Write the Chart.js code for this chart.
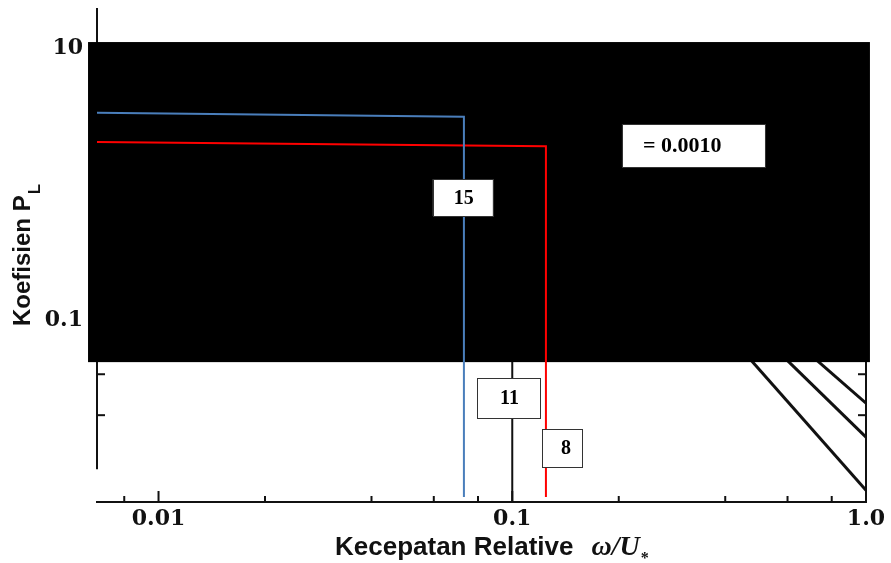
<!DOCTYPE html>
<html>
<head>
<meta charset="utf-8">
<script src="https://cdn.jsdelivr.net/npm/chart.js@4.4.1/dist/chart.umd.min.js"></script>
<style>
  html, body { margin: 0; padding: 0; background: #fff; }
  canvas { display: block; }
</style>
</head>
<body>
<canvas id="canvas" width="891" height="563"></canvas>
<script>
// curve 15 (blue) and curve 8 (red): flat part then a drop at the cut-off
const blueX = [0.0067, 0.073, 0.073]
const blueY = [3.35, 3.12, 0.005]
const redX = [0.0067, 0.1245, 0.1245]
const redY = [2.04, 1.90, 0.005]
// curve 11 (black), only its lower part shows
const blackX = [0.1, 0.1]
const blackY = [0.08, 0.0046]
// the three slanted lines at the lower right
const slopeAX = [0.40, 1.0]
const slopeAY = [0.083, 0.0056]
const slopeBX = [0.525, 1.0]
const slopeBY = [0.0706, 0.0138]
const slopeCX = [0.646, 1.0]
const slopeCY = [0.066, 0.0245]

const xTicks = [0.008, 0.01, 0.02, 0.04, 0.06, 0.08, 0.1, 0.2, 0.4, 0.6, 0.8, 1.0]
const xLabels = ['', '0.01', '', '', '', '', '0.1', '', '', '', '', '1.0']
const yTicks = [0.02, 0.04, 0.1, 10]
const yLabels = ['', '', '0.1', '10']

// text boxes on the chart
const noteText = ['15', '11', '8', '= 0.0010']
const noteX = [0.0725, 0.0976, 0.1382, 0.3253]
const noteY = [0.796, 0.0267, 0.01146, 1.919]

const xMin = 0.0067, xMax = 1.0
const yMin = 0.0046, yMax = 19.7

const pts = (xs, ys) => xs.map((v, i) => ({x: v, y: ys[i]}))

// black cover over the top part of the scan
const maskX = [0.00632, 1.026]
const maskY = [11.07, 0.0491]
const noteSize = [[60, 37], [63, 40], [40, 38], [143, 43]]
const noteFont = [20, 20, 20, 22]

function seg(ctx, x1, y1, x2, y2) {
  ctx.beginPath()
  ctx.moveTo(x1, y1)
  ctx.lineTo(x2, y2)
  ctx.stroke()
}

const decor = {
  id: 'decor',
  beforeDatasetsDraw(chart) {
    const {ctx, scales: {x, y}} = chart
    ctx.save()
    ctx.strokeStyle = '#111'
    ctx.lineWidth = 2
    // left axis stops short of the bottom axis, as in the scan
    seg(ctx, x.left, y.top, x.left, y.getPixelForValue(0.008))
    seg(ctx, x.right, y.getPixelForValue(0.0491), x.right, y.bottom)
    xTicks.forEach((v, i) => {
      if (v >= 1) return
      const px = x.getPixelForValue(v)
      seg(ctx, px, y.bottom, px, y.bottom - (xLabels[i] ? 11 : 6))
    })
    yTicks.forEach((v, i) => {
      if (yLabels[i]) return
      const py = y.getPixelForValue(v)
      seg(ctx, x.left, py, x.left + 8, py)
      seg(ctx, x.right, py, x.right - 8, py)
    })
    ctx.restore()
  },
  beforeDatasetDraw(chart, args) {
    if (args.index !== 1) return
    const {ctx, scales: {x, y}} = chart
    const x0 = x.getPixelForValue(maskX[0]), x1 = x.getPixelForValue(maskX[1])
    const y0 = y.getPixelForValue(maskY[0]), y1 = y.getPixelForValue(maskY[1])
    ctx.save()
    ctx.fillStyle = '#000'
    ctx.fillRect(x0, y0, x1 - x0, y1 - y0)
    ctx.restore()
  },
  afterDatasetsDraw(chart) {
    const {ctx, scales: {x, y}} = chart
    ctx.save()
    noteText.forEach((t, i) => {
      const cx = x.getPixelForValue(noteX[i])
      const cy = y.getPixelForValue(noteY[i])
      const [w, h] = noteSize[i]
      ctx.fillStyle = '#fff'
      ctx.fillRect(cx - w / 2, cy - h / 2, w, h)
      ctx.strokeStyle = '#333'
      ctx.lineWidth = 1
      ctx.strokeRect(Math.round(cx - w / 2) + 0.5, Math.round(cy - h / 2) + 0.5, w, h)
      ctx.fillStyle = '#000'
      ctx.font = 'bold ' + noteFont[i] + 'px "Liberation Serif"'
      ctx.textBaseline = 'middle'
      if (i === 3) {
        ctx.textAlign = 'left'
        ctx.fillText(t, cx - w / 2 + 21, cy + 1)
      } else {
        ctx.textAlign = 'center'
        ctx.fillText(t, cx + (i === 2 ? 4 : 1), cy + 1)
      }
    })
    ctx.restore()
  },
  afterDraw(chart) {
    const {ctx, scales: {y}} = chart
    ctx.save()
    ctx.fillStyle = '#111'
    ctx.textBaseline = 'alphabetic'
    ctx.textAlign = 'left'
    // y title, rotated
    ctx.translate(22, (y.top + y.bottom) / 2)
    ctx.rotate(-Math.PI / 2)
    ctx.font = 'bold 24px "Liberation Sans"'
    const main = 'Koefisien P'
    const w1 = ctx.measureText(main).width
    ctx.font = 'bold 17px "Liberation Sans"'
    const w2 = ctx.measureText('L').width
    const start = -(w1 + w2 + 1) / 2
    ctx.font = 'bold 24px "Liberation Sans"'
    ctx.fillText(main, start, 8)
    ctx.font = 'bold 17px "Liberation Sans"'
    ctx.fillText('L', start + w1 + 1, 18)
    ctx.setTransform(1, 0, 0, 1, 0, 0)
    // x title
    const base = 555
    ctx.font = 'bold 26px "Liberation Sans"'
    const t1 = 'Kecepatan Relative'
    ctx.fillText(t1, 335, base)
    let px = 335 + ctx.measureText(t1).width + 18
    ctx.font = 'italic bold 28px "Liberation Serif"'
    ctx.fillText('\u03c9/U', px, base)
    px += ctx.measureText('\u03c9/U').width + 1
    ctx.font = 'bold 16px "Liberation Serif"'
    ctx.fillText('*', px, base + 8)
    ctx.restore()
  }
}

const ctx = document.querySelector('#canvas').getContext('2d')

const config = {
  type: 'line',
  data: {
    datasets: [
      {data: pts(blueX, blueY), borderColor: '#4a7ebb', borderWidth: 2, order: 0},
      {data: pts(redX, redY), borderColor: '#ff0000', borderWidth: 2, order: 1},
      {data: pts(blackX, blackY), borderColor: '#111', borderWidth: 2, order: 2},
      {data: pts(slopeAX, slopeAY), borderColor: '#111', borderWidth: 3, order: 3},
      {data: pts(slopeBX, slopeBY), borderColor: '#111', borderWidth: 3, order: 4},
      {data: pts(slopeCX, slopeCY), borderColor: '#111', borderWidth: 3, order: 5}
    ]
  },
  options: {
    responsive: false,
    animation: false,
    devicePixelRatio: 1,
    layout: {padding: {left: 0, right: 25, top: 8, bottom: 0}},
    elements: {
      point: {radius: 0},
      line: {tension: 0, fill: false, borderCapStyle: 'butt'}
    },
    plugins: {
      legend: {display: false},
      tooltip: {enabled: false}
    },
    scales: {
      x: {
        type: 'logarithmic',
        min: xMin,
        max: xMax,
        afterBuildTicks: s => { s.ticks = xTicks.map(v => ({value: v})) },
        afterFit: s => { s.height = 61; s.paddingLeft = 0; s.paddingRight = 0 },
        grid: {display: true, drawOnChartArea: false, drawTicks: false},
        border: {display: true, color: '#111', width: 2},
        ticks: {
          autoSkip: false,
          maxRotation: 0,
          padding: 4,
          color: '#111',
          font: {family: 'DejaVu Serif', weight: 'bold', size: 22},
          callback: (v, i) => xLabels[i]
        }
      },
      y: {
        type: 'logarithmic',
        min: yMin,
        max: yMax,
        afterBuildTicks: s => { s.ticks = yTicks.map(v => ({value: v})) },
        afterFit: s => { s.width = 97; s.paddingTop = 0; s.paddingBottom = 0 },
        grid: {display: true, drawOnChartArea: false, drawTicks: false},
        border: {display: false},
        ticks: {
          autoSkip: false,
          padding: 14,
          color: '#111',
          font: {family: 'DejaVu Serif', weight: 'bold', size: 22},
          callback: (v, i) => yLabels[i]
        }
      }
    }
  },
  plugins: [decor]
}

const myChart = new Chart(ctx, config)
</script>
</body>
</html>
